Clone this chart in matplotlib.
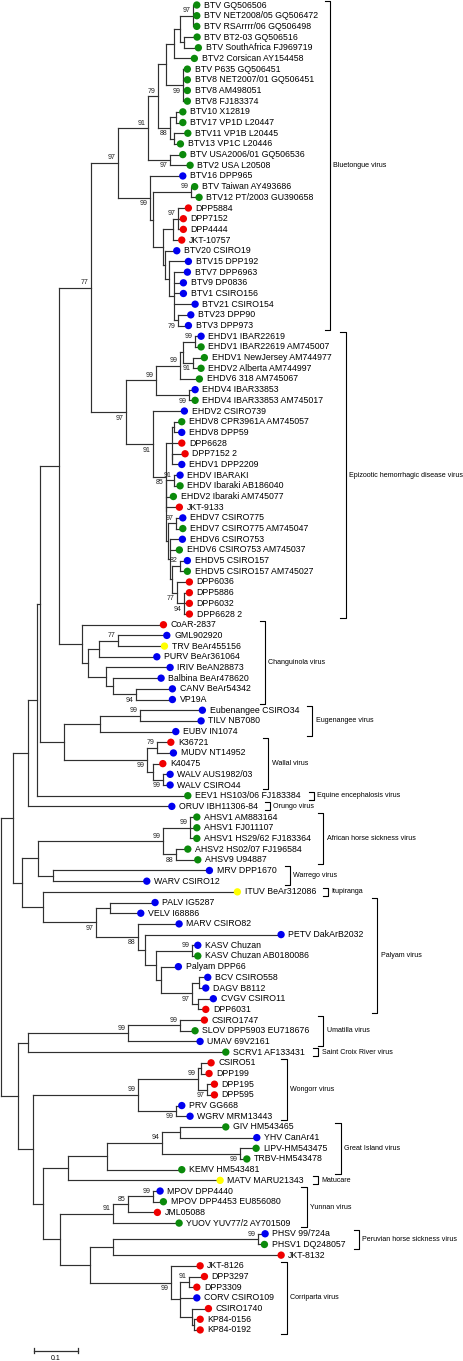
import re
import matplotlib
matplotlib.use("Agg")
import matplotlib.pyplot as plt
from matplotlib.collections import LineCollection
from matplotlib.transforms import offset_copy

plt.rcParams['font.family'] = ['Liberation Sans', 'DejaVu Sans']

# ================= 1. data =================
# tip labels, top to bottom (t1 .. t125 in the newick strings)
LEAF_NAMES = [
    "BTV GQ506506", "BTV NET2008/05 GQ506472", "BTV RSArrrr/06 GQ506498",
    "BTV BT2-03 GQ506516", "BTV SouthAfrica FJ969719", "BTV2 Corsican AY154458",
    "BTV P635 GQ506451", "BTV8 NET2007/01 GQ506451", "BTV8 AM498051", "BTV8 FJ183374",
    "BTV10 X12819", "BTV17 VP1D L20447", "BTV11 VP1B L20445", "BTV13 VP1C L20446",
    "BTV USA2006/01 GQ506536", "BTV2 USA L20508", "BTV16 DPP965", "BTV Taiwan AY493686",
    "BTV12 PT/2003 GU390658", "DPP5884", "DPP7152", "DPP4444", "JKT-10757",
    "BTV20 CSIRO19", "BTV15 DPP192", "BTV7 DPP6963", "BTV9 DP0836", "BTV1 CSIRO156",
    "BTV21 CSIRO154", "BTV23 DPP90", "BTV3 DPP973",
    "EHDV1 IBAR22619", "EHDV1 IBAR22619 AM745007", "EHDV1 NewJersey AM744977",
    "EHDV2 Alberta AM744997", "EHDV6 318 AM745067", "EHDV4 IBAR33853",
    "EHDV4 IBAR33853 AM745017", "EHDV2 CSIRO739", "EHDV8 CPR3961A AM745057",
    "EHDV8 DPP59", "DPP6628", "DPP7152 2", "EHDV1 DPP2209", "EHDV IBARAKI",
    "EHDV Ibaraki AB186040", "EHDV2 Ibaraki AM745077", "JKT-9133", "EHDV7 CSIRO775",
    "EHDV7 CSIRO775 AM745047", "EHDV6 CSIRO753", "EHDV6 CSIRO753 AM745037",
    "EHDV5 CSIRO157", "EHDV5 CSIRO157 AM745027", "DPP6036", "DPP5886", "DPP6032",
    "DPP6628 2",
    "CoAR-2837", "GML902920", "TRV BeAr455156", "PURV BeAr361064", "IRIV BeAN28873",
    "Balbina BeAr478620", "CANV BeAr54342", "VP19A",
    "Eubenangee CSIRO34", "TILV NB7080", "EUBV IN1074",
    "K36721", "MUDV NT14952", "K40475", "WALV AUS1982/03", "WALV CSIRO44",
    "EEV1 HS103/06 FJ183384", "ORUV IBH11306-84",
    "AHSV1 AM883164", "AHSV1 FJ011107", "AHSV1 HS29/62 FJ183364",
    "AHSV2 HS02/07 FJ196584", "AHSV9 U94887", "MRV DPP1670", "WARV CSIRO12",
    "ITUV BeAr312086",
    "PALV IG5287", "VELV I68886", "MARV CSIRO82", "PETV DakArB2032", "KASV Chuzan",
    "KASV Chuzan AB0180086", "Palyam DPP66", "BCV CSIRO558", "DAGV B8112",
    "CVGV CSIRO11", "DPP6031",
    "CSIRO1747", "SLOV DPP5903 EU718676", "UMAV 69V2161", "SCRV1 AF133431",
    "CSIRO51", "DPP199", "DPP195", "DPP595", "PRV GG668", "WGRV MRM13443",
    "GIV HM543465", "YHV CanAr41", "LIPV-HM543475", "TRBV-HM543478", "KEMV HM543481",
    "MATV MARU21343",
    "MPOV DPP4440", "MPOV DPP4453 EU856080", "JML05088", "YUOV YUV77/2 AY701509",
    "PHSV 99/724a", "PHSV1 DQ248057", "JKT-8132",
    "JKT-8126", "DPP3297", "DPP3309", "CORV CSIRO109", "CSIRO1740", "KP84-0156",
    "KP84-0192",
]

# marker colour code per tip: g green, b blue, r red, y yellow
LEAF_CODE = (
    "gggggggggggggggg" "b" "gg" "rrrr" "bbbbbbbb"          # 1-31
    "b" "gggg" "bg" "b" "gbrrb" "bggr" "bgbgbg" "rrrr"     # 32-58
    "r" "bybbbbb" "bbb" "rbrbb" "g" "b"                    # 59-76
    "ggggg" "bb" "y" "bbbbbgbbbbr"                         # 77-95
    "rgb" "g" "rrrrbb" "gbggg" "y" "bgrg" "bgr" "rrrbrrr"  # 96-125
)
COLOR_OF = {"g": "#0b8a0b", "b": "#0000f0", "r": "#f00000", "y": "#ffff00"}

# tree, branch lengths in substitutions/site, node labels = bootstrap
BTV_NWK = (
    "(((((((t1:0.0011,t2:0.0011,t3:0.0011)97:0.0289,(t4:0.0216,t5:0.0245):0.0091):0.0130,"
    "t6:0.0375):0.0195,(t7:0.0018,t8:0.0018,t9:0.0018,t10:0.0018)99:0.0393):0.0168,"
    "((t11:0.0080,t12:0.0080):0.0130,(t13:0.0232,t14:0.0064):0.0091)88:0.0266)79:0.0241,"
    "(t15:0.0209,t16:0.0375)97:0.0507)91:0.0668,"
    "(t17:0.0664,((t18:0.0002,t19:0.0102)99:0.0857,"
    "(((t20:0.0148,t21:0.0034,t22:0.0034)97:0.0114,t23:0.0111):0.0227,"
    "(t24:0.0186,(t25:0.0352,(t26:0.0216,t27:0.0125,t28:0.0125,t29:0.0391,"
    "(t30:0.0202,t31:0.0148)79:0.0091):0.0114):0.0098):0.0039):0.0227):0.0075)99:0.0720)"
)
EHDV_NWK = (
    "(((((t32:0.0057,t33:0.0057)99:0.0266,(t34:0.0177,t35:0.0102)91:0.0220):0.0075,"
    "t36:0.0359)99:0.0552,(t37:0.0057,t38:0.0057)99:0.0757)99:0.0675,"
    "(t39:0.0625,(((t40:0.0095,t41:0.0095):0.0052,t42:0.0148,(t43:0.0205,t44:0.0130):0.0018):0.0136,"
    "((t45:0.0057,t46:0.0057)91:0.0170,t47:0.0075,t48:0.0211,"
    "((t49:0.0080,t50:0.0080)97:0.0168,(t51:0.0189,t52:0.0120,"
    "((t53:0.0086,t54:0.0086)82:0.0182,(t55:0.0207,(t56:0.0041,t57:0.0041,t58:0.0041)94:0.0166)77:0.0107)"
    ":0.0034):0.0050):0.0041):0.0018)85:0.0282)91:0.0620)"
)
CHANG_NWK = (
    "(t59:0.1761,(((t60:0.1020,t61:0.0966)77:0.0439,t62:0.1232):0.0243,"
    "(t63:0.1375,(t64:0.1018,(t65:0.0745,t66:0.0745)94:0.0530):0.0152):0.0402):0.0136)"
)
EUB_WAL_NWK = (
    "(((t67:0.1336,t68:0.1307)99:0.0909,t69:0.1641):0.0818,"
    "((t70:0.0239,t71:0.0298)79:0.0227,(t72:0.0134,(t73:0.0073,t74:0.0073)99:0.0227):0.0150)99:0.1880)"
)
AHS_WAR_NWK = (
    "(((t77:0.0073,t78:0.0073,t79:0.0073)99:0.0607,(t80:0.0193,t81:0.0420)88:0.0282)99:0.2841,"
    "(t82:0.3466,t83:0.2043):0.0341)"
)
PALYAM_NWK = (
    "((t85:0.0943,t86:0.0618):0.0318,(t87:0.0859,(t88:0.3011,((t89:0.0043,t90:0.0043)99:0.0832,"
    "(t91:0.0314,((t92:0.0118,t93:0.0073):0.0152,(t94:0.0261,t95:0.0089):0.0136)97:0.0711)"
    ":0.0120):0.0243):0.0166)88:0.0948)"
)
UMA_NWK = "(((t96:0.0473,t97:0.0261)99:0.1189,t98:0.1564)99:0.2259,t99:0.4407)"
WONG_NWK = (
    "(((t100:0.0148,t101:0.0102):0.0061,(t102:0.0080,t103:0.0080)97:0.0205)99:0.1364,"
    "(t104:0.0057,t105:0.0245)99:0.0850)"
)
GI_NWK = (
    "((((t106:0.0959,t107:0.1664):0.0402,(t108:0.0284,t109:0.0073)99:0.1766)94:0.1264,"
    "t110:0.1625):0.0886,t111:0.3382)"
)
YUN_NWK = "(((t112:0.0086,t113:0.0161)99:0.0555,t114:0.0580)85:0.0341,t115:0.1414)"
PHS_NWK = "((t116:0.0073,t117:0.0057)99:0.3295,t118:0.3732)"
CORR_NWK = (
    "(t119:0.0580,((t120:0.0268,t121:0.0095)91:0.0205,t122:0.0300,"
    "(t123:0.0284,(t124:0.0057,t125:0.0057):0.0039):0.0280):0.0205)"
)

# backbone joining the groups
AA_NWK = f"({BTV_NWK}97:0.0620,{EHDV_NWK}97:0.0795)"
BB_NWK = f"({AA_NWK}77:0.0727,{CHANG_NWK}:0.0530)"
NZ_NWK = f"((({BB_NWK}:0.0432,{EUB_WAL_NWK}:0.0545):0.0075,t75:0.3352):0.0191,t76:0.3180)"
RB_NWK = f"({AHS_WAR_NWK}:0.0377,(t84:0.4343,{PALYAM_NWK}97:0.1211):0.0477)"
RL5_NWK = f"({PHS_NWK}:0.0530,{CORR_NWK}99:0.1841)"
RL_NWK = (f"({UMA_NWK}:0.0227,({WONG_NWK}99:0.2386,({GI_NWK}:0.0555,"
          f"({YUN_NWK}91:0.1211,{RL5_NWK}:0.0682):0.0380):0.0227):0.0341)")
TREE_NWK = f"(({NZ_NWK}:0.0355,{RB_NWK}:0.0205):0.0266,{RL_NWK}:0.0393);"

# clade brackets: name, first tip, last tip (1-based)
CLADE_NAMES = ["Bluetongue virus", "Epizootic hemorrhagic disease virus", "Changuinola virus",
               "Eugenangee virus", "Wallal virus", "Equine encephalosis virus", "Orungo virus",
               "African horse sickness virus", "Warrego virus", "Itupiranga", "Palyam virus",
               "Umatilla virus", "Saint Croix River virus", "Wongorr virus", "Great Island virus",
               "Matucare", "Yunnan virus", "Peruvian horse sickness virus", "Corriparta virus"]
CLADE_FIRST = [1, 32, 59, 67, 70, 75, 76, 77, 82, 84, 85, 96, 99, 100, 106, 111, 112, 116, 119]
CLADE_LAST = [31, 58, 66, 69, 74, 75, 76, 81, 83, 84, 95, 98, 99, 105, 110, 111, 115, 117, 125]

SCALE_LEN = 0.1

# ================= 2. layout constants (pixels) =================
PX_PER_UNIT = 440.0      # 0.1 subs/site = 44 px
PX_PER_TIP = 10.685
TOP_PX = 5.0
BRACKET_PX = [330, 345.7, 265, 312.3, 268.3, 314, 270, 323.3, 290, 328.3, 377.3,
              323.3, 318.3, 286.7, 340.7, 318.3, 306.7, 359, 286.7]
LINE_COLOR = "#303030"


def px_x(px):
    return (px - 1.0) / PX_PER_UNIT


def px_y(px):
    return (px - TOP_PX) / PX_PER_TIP


# ================= 3. parse and lay out tree =================
def parse_newick(s):
    s = s.strip().rstrip(";")
    pos = 0

    def node():
        nonlocal pos
        n = {"children": [], "name": "", "length": 0.0}
        if s[pos] == "(":
            pos += 1
            while True:
                n["children"].append(node())
                ch = s[pos]
                pos += 1
                if ch == ")":
                    break
        m = re.match(r"[^:,();]*", s[pos:])
        n["name"] = m.group(0)
        pos += len(m.group(0))
        if pos < len(s) and s[pos] == ":":
            m = re.match(r":([0-9.eE-]+)", s[pos:])
            n["length"] = float(m.group(1))
            pos += len(m.group(0))
        return n

    return node()


tree = parse_newick(TREE_NWK)
tips = []


def layout(n, depth):
    n["x"] = depth
    if not n["children"]:
        n["y"] = float(len(tips))
        tips.append(n)
    else:
        for c in n["children"]:
            layout(c, depth + c["length"])
        n["y"] = (n["children"][0]["y"] + n["children"][-1]["y"]) / 2.0


layout(tree, 0.0)
assert [t["name"] for t in tips] == [f"t{i + 1}" for i in range(len(LEAF_NAMES))]

segments = []
boots = []


def collect(n):
    if not n["children"]:
        return
    kids = n["children"]
    segments.append([(n["x"], kids[0]["y"]), (n["x"], kids[-1]["y"])])
    for i, c in enumerate(kids):
        segments.append([(n["x"], c["y"]), (c["x"], c["y"])])
        if c["children"] and c["name"]:
            # MEGA style: upper child label above its branch, lower child below
            boots.append((c["x"], c["y"], c["name"], i < len(kids) - 1))
        collect(c)


collect(tree)

# ================= 4. draw =================
fig = plt.figure(figsize=(4.63, 13.61), dpi=100)
ax = fig.add_axes([0, 0, 1, 1])
ax.set_xlim(px_x(0), px_x(463))
ax.set_ylim(px_y(1361), px_y(0))
ax.axis("off")

ax.add_collection(LineCollection(segments, colors=LINE_COLOR, linewidths=0.85,
                                 capstyle="projecting"))

dot_tr = offset_copy(ax.transData, fig=fig, x=3.6, y=0, units="dots")
txt_tr = offset_copy(ax.transData, fig=fig, x=10.8, y=0, units="dots")
tip_x = [t["x"] for t in tips]
tip_y = [t["y"] for t in tips]
ax.scatter(tip_x, tip_y, s=28, c=[COLOR_OF[c] for c in LEAF_CODE],
           transform=dot_tr, linewidths=0, zorder=3)
for x, y, name in zip(tip_x, tip_y, LEAF_NAMES):
    ax.text(x, y, name, transform=txt_tr, fontsize=6.3, va="center", ha="left")

up_tr = offset_copy(ax.transData, fig=fig, x=-2.5, y=5.0, units="dots")
dn_tr = offset_copy(ax.transData, fig=fig, x=-2.5, y=-6.0, units="dots")
for x, y, lab, above in boots:
    ax.text(x, y, lab, transform=up_tr if above else dn_tr, fontsize=5.0,
            va="center", ha="right", color="#222222")

# clade brackets
pad = 0.38
tick = px_x(5.5) - px_x(0)
lab_tr = offset_copy(ax.transData, fig=fig, x=3.3, y=0, units="dots")
for name, i0, i1, bpx in zip(CLADE_NAMES, CLADE_FIRST, CLADE_LAST, BRACKET_PX):
    y0, y1 = tip_y[i0 - 1] - pad, tip_y[i1 - 1] + pad
    bx = px_x(bpx)
    ax.plot([bx - tick, bx, bx, bx - tick], [y0, y0, y1, y1], color="black", lw=0.8)
    ax.text(bx, (y0 + y1) / 2, name, transform=lab_tr, fontsize=5.1, va="center",
            ha="left")

# scale bar
sb_x0 = px_x(34)
sb_y = px_y(1350.7)
tk = 0.25
ax.plot([sb_x0, sb_x0 + SCALE_LEN], [sb_y, sb_y], color=LINE_COLOR, lw=0.9)
ax.plot([sb_x0, sb_x0], [sb_y - tk, sb_y + tk], color=LINE_COLOR, lw=0.9)
ax.plot([sb_x0 + SCALE_LEN] * 2, [sb_y - tk, sb_y + tk], color=LINE_COLOR, lw=0.9)
ax.text(sb_x0 + SCALE_LEN / 2, px_y(1358.5), "0.1", fontsize=5.0, ha="center", va="center")

fig.savefig("out.png", dpi=100)
